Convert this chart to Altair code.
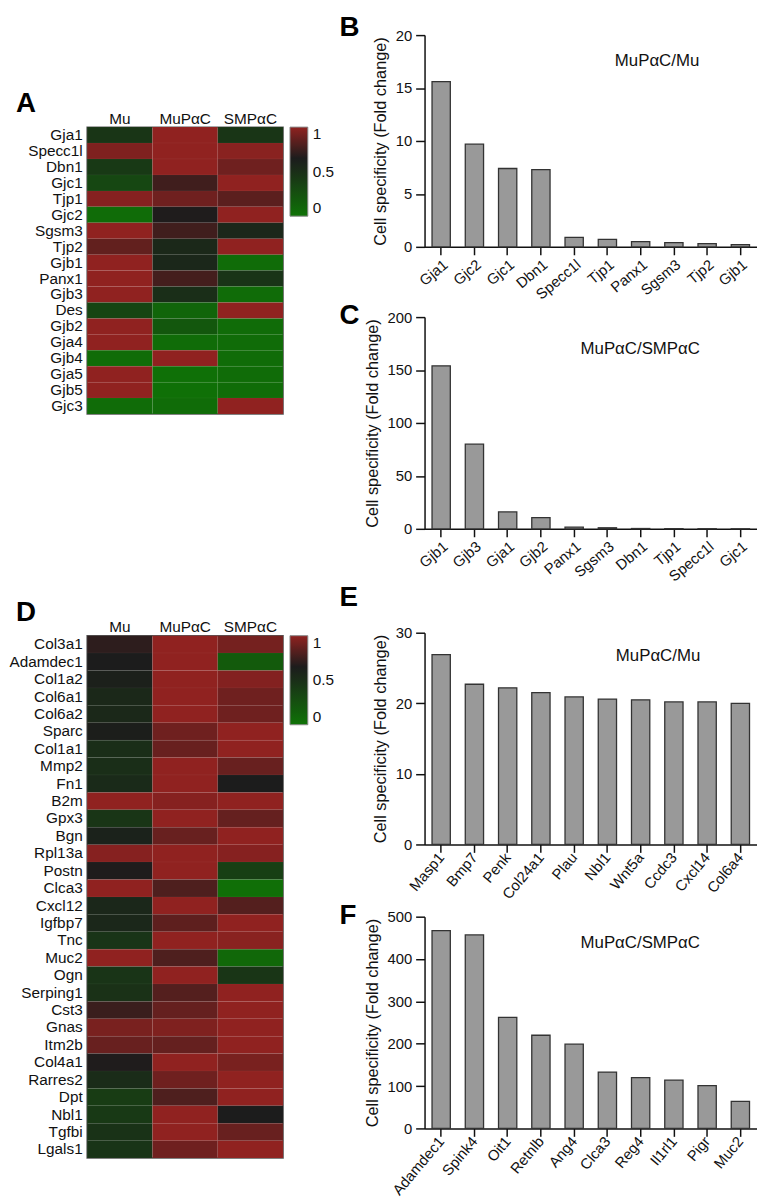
import altair as alt
import pandas as pd

FONT = "Liberation Sans"

# ---------------- Heatmap data ----------------
samples = ["Mu", "MuPαC", "SMPαC"]

genes_a = ["Gja1", "Specc1l", "Dbn1", "Gjc1", "Tjp1", "Gjc2", "Sgsm3", "Tjp2", "Gjb1",
           "Panx1", "Gjb3", "Des", "Gjb2", "Gja4", "Gjb4", "Gja5", "Gjb5", "Gjc3"]
mu_a = [0.45, 0.95, 0.42, 0.32, 0.97, 0.05, 1.0, 0.86, 1.0,
        1.0, 1.0, 0.33, 1.0, 1.0, 0.05, 1.0, 1.0, 0.05]
mupac_a = [1.0, 1.0, 1.0, 0.76, 0.9, 0.66, 0.76, 0.55, 0.56,
           0.77, 0.5, 0.1, 0.2, 0.05, 1.0, 0.02, 0.02, 0.05]
smpac_a = [0.45, 0.98, 0.9, 1.0, 0.84, 1.0, 0.56, 1.0, 0.05,
           0.46, 0.05, 1.0, 0.05, 0.05, 0.05, 0.05, 0.05, 1.0]

genes_d = ["Col3a1", "Adamdec1", "Col1a2", "Col6a1", "Col6a2", "Sparc", "Col1a1", "Mmp2",
           "Fn1", "B2m", "Gpx3", "Bgn", "Rpl13a", "Postn", "Clca3", "Cxcl12", "Igfbp7",
           "Tnc", "Muc2", "Ogn", "Serping1", "Cst3", "Gnas", "Itm2b", "Col4a1", "Rarres2",
           "Dpt", "Nbl1", "Tgfbi", "Lgals1"]
mu_d = [0.7, 0.65, 0.62, 0.55, 0.55, 0.63, 0.5, 0.5, 0.53, 1.0, 0.45, 0.6, 0.97, 0.66,
        1.0, 0.56, 0.56, 0.46, 1.0, 0.46, 0.48, 0.74, 0.93, 0.88, 0.66, 0.52, 0.4, 0.42,
        0.47, 0.46]
mupac_d = [1.0, 1.0, 1.0, 1.0, 1.0, 0.9, 0.88, 1.0, 1.0, 0.97, 1.0, 0.88, 1.0, 1.0,
           0.8, 1.0, 0.85, 1.0, 0.8, 1.0, 0.82, 0.87, 0.95, 0.87, 1.0, 0.9, 0.8, 1.0,
           1.0, 0.9]
smpac_d = [0.92, 0.18, 0.96, 0.9, 0.9, 1.0, 1.0, 0.88, 0.65, 1.0, 0.87, 1.0, 0.97, 0.38,
           0.03, 0.82, 1.0, 0.98, 0.08, 0.45, 1.0, 1.0, 1.0, 1.0, 0.93, 1.0, 1.0, 0.65,
           0.88, 1.0]

# ---------------- Bar data ----------------
genes_b = ["Gja1", "Gjc2", "Gjc1", "Dbn1", "Specc1l", "Tjp1", "Panx1", "Sgsm3", "Tjp2", "Gjb1"]
vals_b = [15.6, 9.7, 7.4, 7.3, 0.9, 0.7, 0.5, 0.4, 0.3, 0.2]

genes_c = ["Gjb1", "Gjb3", "Gja1", "Gjb2", "Panx1", "Sgsm3", "Dbn1", "Tjp1", "Specc1l", "Gjc1"]
vals_c = [154, 80, 16, 10.5, 1.6, 1.0, 0.3, 0.2, 0.1, 0.05]

genes_e = ["Masp1", "Bmp7", "Penk", "Col24a1", "Plau", "Nbl1", "Wnt5a", "Ccdc3", "Cxcl14", "Col6a4"]
vals_e = [26.9, 22.7, 22.2, 21.5, 20.9, 20.6, 20.5, 20.2, 20.2, 20.0]

genes_f = ["Adamdec1", "Spink4", "Oit1", "Retnlb", "Ang4", "Clca3", "Reg4", "Il1rl1", "Pigr", "Muc2"]
vals_f = [467, 457, 262, 220, 199, 133, 120, 114, 101, 64]

# ---------------- Styles ----------------
cscale = alt.Scale(domain=[0, 0.5, 0.65, 1],
                   range=["#0f7306", "#1a2e18", "#1c1c1c", "#902220"],
                   interpolate="rgb")

HEAT_W = 198
BAR_W = 336
BAR_H = 214


def heatmap(genes, mu, mupac, smpac, letter, height, title_offset):
    rows = []
    for g, a, b, c in zip(genes, mu, mupac, smpac):
        rows.append({"gene": g, "sample": samples[0], "value": a})
        rows.append({"gene": g, "sample": samples[1], "value": b})
        rows.append({"gene": g, "sample": samples[2], "value": c})
    df = pd.DataFrame(rows)
    return alt.Chart(df).mark_rect(stroke="#ffffff", strokeOpacity=0.06, strokeWidth=0.6).encode(
        x=alt.X("sample:N", sort=samples,
                axis=alt.Axis(orient="top", title=None, labelAngle=0, domain=False, ticks=False,
                              labelFontSize=15.5, labelPadding=1, labelColor="#111111")),
        y=alt.Y("gene:N", sort=genes,
                axis=alt.Axis(title=None, domain=False, ticks=False, labelFontSize=15.5,
                              labelPadding=5, labelColor="#111111")),
        color=alt.Color("value:Q", scale=cscale,
                        legend=alt.Legend(title=None, orient="right", offset=7, gradientLength=90,
                                          gradientThickness=18, values=[0, 0.5, 1], format="~g",
                                          labelFontSize=15.5, labelOffset=5, labelColor="#111111",
                                          gradientStrokeColor="#888888", gradientStrokeWidth=1,
                                          direction="vertical")),
    ).properties(
        width=HEAT_W, height=height,
        view=alt.ViewBackground(stroke="#555555", strokeWidth=1.5),
        title=alt.TitleParams(letter, anchor="start", frame="group", dx=-72, fontSize=28,
                              fontWeight="bold", offset=title_offset, color="#000000"),
    )


def bar_chart(genes, vals, ymax, yticks, angle, annot, ax, ay, letter, title_offset):
    df = pd.DataFrame({"gene": genes, "value": vals})
    bars = alt.Chart(df).mark_bar(color="#999999", stroke="#333333", strokeWidth=1.3).encode(
        x=alt.X("gene:N", sort=genes,
                scale=alt.Scale(paddingInner=0.45, paddingOuter=0.225),
                axis=alt.Axis(title=None, labelAngle=angle, labelFontSize=15, labelColor="#111111",
                              tickSize=8, tickWidth=1.5, tickColor="#111111", domainColor="#111111",
                              domainWidth=1.5, labelPadding=2)),
        y=alt.Y("value:Q", scale=alt.Scale(domain=[0, ymax], nice=False),
                axis=alt.Axis(values=yticks, title="Cell specificity (Fold change)",
                              titleFontSize=16.5, titleFontWeight="normal", titleColor="#111111",
                              labelFontSize=15, labelColor="#111111", tickSize=9, tickWidth=1.5,
                              tickColor="#111111", domainColor="#111111", domainWidth=1.5,
                              grid=False, titlePadding=7, labelPadding=4)),
    )
    ann = alt.Chart(pd.DataFrame({"t": [annot]})).mark_text(
        fontSize=17, font=FONT, align="center", baseline="middle", color="#111111"
    ).encode(x=alt.value(ax), y=alt.value(ay), text="t:N")
    return alt.layer(bars, ann).properties(
        width=BAR_W, height=BAR_H,
        title=alt.TitleParams(letter, anchor="start", frame="group", dx=-86, fontSize=28,
                              fontWeight="bold", offset=title_offset, color="#000000"),
    )


def spacer(h):
    return alt.Chart(pd.DataFrame({"v": [0]})).mark_point(opacity=0).encode(
        x=alt.value(0), y=alt.value(0)
    ).properties(width=20, height=h)


heat_a = heatmap(genes_a, mu_a, mupac_a, smpac_a, "A", 290, -7)
heat_d = heatmap(genes_d, mu_d, mupac_d, smpac_d, "D", 528, -7)

left = alt.vconcat(spacer(55), heat_a, spacer(181), heat_d, spacing=0).resolve_scale(
    color="independent").resolve_legend(color="independent")

bar_b = bar_chart(genes_b, vals_b, 20, [0, 5, 10, 15, 20], -40, "MuPαC/Mu", 235, 26, "B", -14)
bar_c = bar_chart(genes_c, vals_c, 200, [0, 50, 100, 150, 200], -40, "MuPαC/SMPαC", 218, 32, "C", -20)
bar_e = bar_chart(genes_e, vals_e, 30, [0, 10, 20, 30], -50, "MuPαC/Mu", 236, 24, "E", 14)
bar_f = bar_chart(genes_f, vals_f, 500, [0, 100, 200, 300, 400, 500], -50, "MuPαC/SMPαC", 218, 27, "F", -20)

right = alt.vconcat(bar_b, bar_c, bar_e, bar_f, spacing=0)

chart = alt.hconcat(left, right, spacing=4).resolve_scale(
    color="independent").resolve_legend(color="independent").properties(
    padding={"left": 0, "top": 0, "right": 0, "bottom": 0}
).configure(font=FONT).configure_view(stroke=None)

chart.save("out.html", embed_options={"renderer": "svg", "actions": False})
